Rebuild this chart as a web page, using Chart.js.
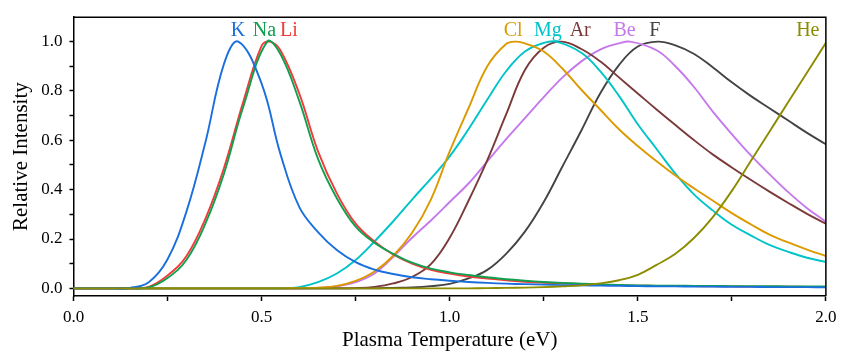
<!DOCTYPE html>
<html>
<head>
<meta charset="utf-8">
<script src="https://cdn.jsdelivr.net/npm/chart.js@4/dist/chart.umd.min.js"></script>
<style>
html,body{margin:0;padding:0;background:#fff;}
#wrap{width:843px;height:355px;}
</style>
</head>
<body>
<div id="wrap"><canvas id="c" width="843" height="355"></canvas></div>
<script>
// Temperature grid (eV)
const temps = [0.00,0.05,0.10,0.15,0.20,0.25,0.30,0.35,0.40,0.45,0.50,0.55,0.60,0.65,0.70,0.75,0.80,0.85,0.90,0.95,
               1.00,1.05,1.10,1.15,1.20,1.25,1.30,1.35,1.40,1.45,1.50,1.55,1.60,1.65,1.70,1.75,1.80,1.85,1.90,1.95,2.00];

const K  = [0,0,0,0.002,0.025,0.118,0.31,0.588,0.91,0.993,0.83,0.545,0.33,0.228,0.155,0.106,0.076,0.058,0.045,0.037,
            0.031,0.026,0.022,0.019,0.017,0.015,0.013,0.012,0.011,0.010,0.009,0.008,0.008,0.007,0.007,0.006,0.006,0.005,0.005,0.005,0.004];
const Na = [0,0,0,0,0.004,0.042,0.115,0.26,0.465,0.73,0.975,0.95,0.76,0.525,0.365,0.25,0.185,0.14,0.104,0.08,
            0.065,0.054,0.045,0.037,0.031,0.026,0.022,0.019,0.016,0.014,0.012,0.011,0.011,0.010,0.010,0.009,0.009,0.009,0.008,0.008,0.008];
const Li = [0,0,0,0,0.006,0.052,0.13,0.28,0.488,0.75,0.983,0.965,0.79,0.555,0.385,0.262,0.19,0.137,0.10,0.075,
            0.06,0.048,0.04,0.033,0.027,0.023,0.02,0.017,0.015,0.013,0.011,0.010,0.009,0.009,0.008,0.008,0.007,0.007,0.007,0.006,0.006];
const Cl = [0,0,0,0,0,0,0,0,0,0,0,0,0.001,0.003,0.01,0.03,0.068,0.132,0.225,0.36,
            0.555,0.73,0.9,0.99,0.993,0.96,0.89,0.805,0.725,0.645,0.577,0.515,0.457,0.405,0.355,0.305,0.26,0.218,0.186,0.157,0.131];
const Mg = [0,0,0,0,0,0,0,0,0,0,0,0,0.005,0.025,0.06,0.115,0.19,0.272,0.36,0.445,
            0.535,0.645,0.765,0.88,0.96,0.995,0.998,0.955,0.88,0.78,0.665,0.565,0.465,0.38,0.315,0.258,0.215,0.176,0.148,0.124,0.107];
const Ar = [0,0,0,0,0,0,0,0,0,0,0,0,0,0,0,0.001,0.006,0.02,0.046,0.098,
            0.205,0.355,0.52,0.705,0.885,0.975,1.0,0.97,0.92,0.855,0.79,0.725,0.662,0.60,0.542,0.49,0.44,0.392,0.346,0.302,0.262];
const Be = [0,0,0,0,0,0,0,0,0,0,0,0,0,0.002,0.008,0.025,0.06,0.128,0.205,0.275,
            0.35,0.425,0.515,0.605,0.69,0.775,0.855,0.92,0.968,0.993,0.997,0.965,0.90,0.815,0.715,0.625,0.54,0.463,0.39,0.325,0.27];
const F  = [0,0,0,0,0,0,0,0,0,0,0,0,0,0,0,0,0,0.002,0.004,0.009,
            0.018,0.04,0.075,0.14,0.23,0.35,0.495,0.64,0.79,0.905,0.98,1.0,0.985,0.95,0.895,0.835,0.78,0.73,0.68,0.63,0.584];
const He = [0,0,0,0,0,0,0,0,0,0,0,0,0,0,0,0,0,0,0,0,
            0,0,0.001,0.002,0.003,0.005,0.008,0.012,0.02,0.033,0.055,0.095,0.14,0.205,0.29,0.395,0.515,0.635,0.755,0.875,0.995];

const names      = ['He','K','Na','Li','Cl','Mg','Ar','Be','F'];
const seriesVals = [He, K, Na, Li, Cl, Mg, Ar, Be, F];
const peakTemps  = [null, 0.438, 0.515, 0.522, 1.176, 1.283, 1.298, 1.48, 1.553];
const labelTemps = [1.952, 0.4375, 0.5076, 0.5724, 1.1685, 1.261, 1.347, 1.4647, 1.5453];
const colors     = ['#8c8c00','#1a6fdf','#10a050','#f23b3b','#dd9a00','#00c4c8','#7b3a3a','#c679ea','#444444'];

const xTicks = [0.0, 0.5, 1.0, 1.5, 2.0];
const yTicks = [0.0, 0.2, 0.4, 0.6, 0.8, 1.0];

function buildPoints(vals, peak){
  const pts = [];
  temps.forEach((t,i)=>{
    if (peak !== null && Math.abs(t - peak) < 0.021) return;
    pts.push({x:t, y:vals[i]});
  });
  if (peak !== null){ pts.push({x:peak, y:1.0}); pts.sort((a,b)=>a.x-b.x); }
  return pts;
}

const datasets = names.map((n,i)=>({
  label:n,
  data: buildPoints(seriesVals[i], peakTemps[i]),
  borderColor: colors[i],
  backgroundColor: colors[i],
  borderWidth: 1.9,
  pointRadius: 0,
  fill: false,
  tension: 0.4
}));

const serif = "'Liberation Serif','Times New Roman',serif";

const framePlugin = {
  id:'frame',
  afterDraw(chart){
    const {ctx, chartArea:a, scales} = chart;
    ctx.save();
    ctx.strokeStyle = '#000';
    ctx.lineWidth = 1.5;
    ctx.beginPath();
    ctx.moveTo(a.left, a.top); ctx.lineTo(a.right, a.top); ctx.lineTo(a.right, a.bottom);
    ctx.stroke();
    // element labels
    ctx.font = "20px " + serif;
    ctx.textAlign = 'center';
    ctx.textBaseline = 'alphabetic';
    names.forEach((n,i)=>{
      ctx.fillStyle = colors[i];
      ctx.fillText(n, scales.x.getPixelForValue(labelTemps[i]), scales.y.getPixelForValue(1.023));
    });
    ctx.restore();
  }
};

function near(v, arr){ return arr.some(t=>Math.abs(t-v)<1e-6); }

new Chart(document.getElementById('c'), {
  type:'line',
  data:{datasets},
  options:{
    responsive:false,
    animation:false,
    devicePixelRatio:1,
    layout:{padding:{left:0, right:13, top:10.5, bottom:0}},
    plugins:{legend:{display:false}, tooltip:{enabled:false}},
    scales:{
      x:{
        type:'linear', min:0, max:2,
        afterFit(s){ s.height = 59; },
        ticks:{stepSize:0.25, autoSkip:false, maxRotation:0, padding:6.5, color:'#000',
          font:{family:serif, size:17},
          callback:(v)=> near(v, xTicks) ? v.toFixed(1) : ''},
        grid:{display:true, drawOnChartArea:false, drawTicks:true, tickLength:5, tickColor:'#000', tickWidth:1.5},
        border:{display:true, color:'#000', width:1.5},
        title:{display:true, text:'Plasma Temperature (eV)', color:'#000',
          font:{family:serif, size:21}, padding:{top:0, bottom:2.2}}
      },
      y:{
        type:'linear', min:-0.031, max:1.099,
        afterFit(s){ s.width = 73.5; },
        ticks:{stepSize:0.1, includeBounds:false, autoSkip:false, padding:7, color:'#000',
          font:{family:serif, size:17},
          callback:(v)=> near(v, yTicks) ? v.toFixed(1) : ''},
        grid:{display:true, drawOnChartArea:false, drawTicks:true, tickLength:4, tickColor:'#000', tickWidth:1.5},
        border:{display:true, color:'#000', width:1.5},
        title:{display:true, text:'Relative Intensity', color:'#000',
          font:{family:serif, size:21}, padding:{top:8.4, bottom:0}}
      }
    }
  },
  plugins:[framePlugin]
});
</script>
</body>
</html>
